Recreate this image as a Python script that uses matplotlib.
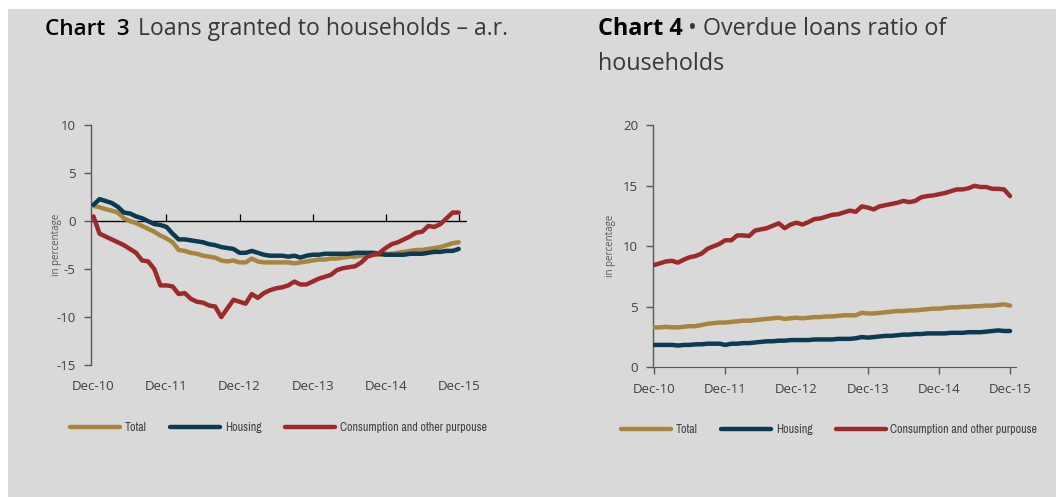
import matplotlib
matplotlib.use("Agg")
import matplotlib.pyplot as plt
from matplotlib.patches import Rectangle
from matplotlib import font_manager as fm
from matplotlib.font_manager import FontProperties
import numpy as np

# ---------------- data ----------------
tick_labels = ["Dec-10", "Dec-11", "Dec-12", "Dec-13", "Dec-14", "Dec-15"]
series_names = ["Total", "Housing", "Consumption and other purpouse"]

# Chart 3: annual rate of change of loans, Dec-10 .. Dec-15 (monthly)
c3_total = [1.6, 1.45, 1.25, 1.1, 0.9, 0.3, 0.0, -0.2, -0.5, -0.8, -1.1, -1.5,
            -1.8, -2.2, -3.0, -3.1, -3.3, -3.4, -3.6, -3.7, -3.8, -4.1, -4.2, -4.1,
            -4.3, -4.3, -3.9, -4.2, -4.3, -4.3, -4.3, -4.3, -4.3, -4.4, -4.3, -4.2,
            -4.1, -4.0, -4.0, -3.9, -3.9, -3.8, -3.7, -3.7, -3.6, -3.6, -3.5, -3.5,
            -3.4, -3.4, -3.3, -3.2, -3.1, -3.0, -3.0, -2.9, -2.8, -2.7, -2.5, -2.3,
            -2.2]
c3_housing = [1.7, 2.3, 2.1, 1.9, 1.5, 0.9, 0.8, 0.5, 0.3, 0.0, -0.3, -0.4,
              -0.6, -1.3, -1.9, -1.9, -2.0, -2.1, -2.2, -2.4, -2.5, -2.7, -2.8, -2.9,
              -3.3, -3.3, -3.1, -3.3, -3.5, -3.6, -3.6, -3.6, -3.7, -3.6, -3.8, -3.6,
              -3.5, -3.5, -3.4, -3.4, -3.4, -3.4, -3.4, -3.3, -3.3, -3.3, -3.3, -3.4,
              -3.5, -3.5, -3.5, -3.5, -3.4, -3.4, -3.4, -3.3, -3.2, -3.2, -3.1, -3.1,
              -2.9]
c3_consumption = [0.5, -1.3, -1.6, -1.9, -2.2, -2.5, -2.9, -3.3, -4.1, -4.2, -5.0, -6.7,
                  -6.7, -6.8, -7.6, -7.5, -8.1, -8.4, -8.5, -8.8, -8.9, -10.0, -9.1, -8.2,
                  -8.4, -8.6, -7.6, -8.0, -7.5, -7.2, -7.0, -6.9, -6.7, -6.3, -6.6, -6.6,
                  -6.3, -6.0, -5.8, -5.6, -5.1, -4.9, -4.8, -4.7, -4.3, -3.7, -3.5, -3.3,
                  -2.8, -2.4, -2.2, -1.9, -1.6, -1.2, -1.1, -0.5, -0.6, -0.3, 0.3, 0.9,
                  0.9]

# Chart 4: overdue loans ratio, Dec-10 .. Dec-15 (monthly)
c4_total = [3.3, 3.3, 3.35, 3.3, 3.3, 3.35, 3.4, 3.4, 3.5, 3.6, 3.65, 3.7,
            3.7, 3.75, 3.8, 3.85, 3.85, 3.9, 3.95, 4.0, 4.05, 4.1, 4.0, 4.05,
            4.1, 4.05, 4.1, 4.15, 4.15, 4.2, 4.2, 4.25, 4.3, 4.3, 4.3, 4.5,
            4.45, 4.45, 4.5, 4.55, 4.6, 4.65, 4.65, 4.7, 4.7, 4.75, 4.8, 4.85,
            4.85, 4.9, 4.95, 4.95, 5.0, 5.0, 5.05, 5.05, 5.1, 5.1, 5.15, 5.2,
            5.1]
c4_housing = [1.85, 1.85, 1.85, 1.85, 1.8, 1.85, 1.85, 1.9, 1.9, 1.95, 1.95, 1.95,
              1.85, 1.95, 1.95, 2.0, 2.0, 2.05, 2.1, 2.15, 2.15, 2.2, 2.2, 2.25,
              2.25, 2.25, 2.25, 2.3, 2.3, 2.3, 2.3, 2.35, 2.35, 2.35, 2.4, 2.5,
              2.45, 2.5, 2.55, 2.6, 2.6, 2.65, 2.7, 2.7, 2.75, 2.75, 2.8, 2.8,
              2.8, 2.8, 2.85, 2.85, 2.85, 2.9, 2.9, 2.9, 2.95, 3.0, 3.05, 3.0,
              3.0]
c4_consumption = [8.45, 8.6, 8.75, 8.8, 8.65, 8.9, 9.1, 9.2, 9.4, 9.8, 10.0, 10.2,
                  10.5, 10.5, 10.9, 10.9, 10.85, 11.3, 11.4, 11.5, 11.7, 11.9, 11.5, 11.8,
                  11.95, 11.8, 12.0, 12.25, 12.3, 12.45, 12.6, 12.65, 12.8, 12.95, 12.85, 13.3,
                  13.2, 13.05, 13.3, 13.4, 13.5, 13.6, 13.75, 13.65, 13.75, 14.05, 14.15, 14.2,
                  14.3, 14.4, 14.55, 14.7, 14.7, 14.8, 15.0, 14.9, 14.9, 14.75, 14.75, 14.7,
                  14.15]

# ---------------- style ----------------
colors = ["#A8853F", "#0B3A52", "#9C2A2C"]
BG = "#D9D9D9"
TXT = "#404040"
plt.rcParams["font.family"] = ["Open Sans", "DejaVu Sans"]
plt.rcParams["axes.unicode_minus"] = False

# pick a narrow/condensed sans for the legend if one is installed
pref = []
for f in fm.fontManager.ttflist:
    fn = f.fname.lower()
    if ("narrow" in fn or "condensed" in fn) and f.style == "normal" \
            and "bold" not in fn and "light" not in fn and "mono" not in fn \
            and "serif" not in fn.replace("sans", ""):
        rank = 0 if "narrow" in fn else (1 if "opensans" in fn.replace(" ", "") else 2)
        pref.append((rank, f.fname))
if pref:
    pref.sort()
    legend_prop = FontProperties(fname=pref[0][1])
else:
    legend_prop = FontProperties(family=["Open Sans", "DejaVu Sans"])

W, H = 1056, 497
fig = plt.figure(figsize=(W / 100, H / 100), dpi=100, facecolor="white")
fig.patches.append(Rectangle((8 / W, 0), 1 - 8 / W, 1 - 9 / H, transform=fig.transFigure,
                             facecolor=BG, edgecolor="none", zorder=-10))
renderer = fig.canvas.get_renderer()

# size legend font so the longest label spans ~146 px
probe = fig.text(0, 0, series_names[2], fontproperties=legend_prop, fontsize=10)
wpx = probe.get_window_extent(renderer).width
probe.remove()
leg_fs = min(9.5, 10 * 146.0 / wpx)
leg_fs_px = leg_fs * 100 / 72


def fx(px):
    return px / W


def fy(py):
    return 1 - py / H


def make_axes(l, r, t, b):
    return fig.add_axes([fx(l), fy(b), fx(r) - fx(l), fy(t) - fy(b)])


def style_y(ax):
    ax.set_facecolor("none")
    for s in ["top", "right"]:
        ax.spines[s].set_visible(False)
    ax.spines["left"].set_color("#595959")
    ax.spines["left"].set_linewidth(1.0)
    ax.tick_params(axis="y", direction="out", length=5, width=1, color="#595959",
                   labelsize=9.5, labelcolor=TXT, pad=6)


def add_legend(ax, lines, x0, yc):
    prop = legend_prop.copy()
    prop.set_size(leg_fs)
    leg = fig.legend(lines, series_names, loc="center left",
                     bbox_to_anchor=(fx(x0), fy(yc)), ncol=3, frameon=False,
                     borderpad=0, borderaxespad=0,
                     handlelength=50 / leg_fs_px, handletextpad=5 / leg_fs_px,
                     columnspacing=23 / leg_fs_px, prop=prop)
    for t in leg.get_texts():
        t.set_color(TXT)
    for h in leg.legend_handles:
        h.set_solid_capstyle("round")
    return leg


months = np.arange(len(c3_total))
tick_pos = months[::12]

# ---------------- Chart 3 ----------------
ax1 = make_axes(91, 466, 125.3, 365)
style_y(ax1)
ax1.spines["bottom"].set_visible(False)
ax1.set_xlim(-0.4, 61.2)
ax1.set_ylim(-15, 10)
ax1.set_yticks([-15, -10, -5, 0, 5, 10])
ax1.set_xticks(tick_pos)
ax1.set_xticklabels(tick_labels)
ax1.tick_params(axis="x", length=0, labelsize=9.5, labelcolor=TXT, pad=11)
ax1.axhline(0, color="black", lw=0.9, zorder=1)
sec = ax1.secondary_xaxis(15 / 25)
sec.set_xticks(tick_pos[1:])
sec.set_xticklabels([])
sec.spines["bottom"].set_visible(False)
sec.tick_params(axis="x", direction="out", length=5, width=0.9, color="black")
lines1 = []
for vals, c in zip([c3_total, c3_housing, c3_consumption], colors):
    ln, = ax1.plot(months, vals, color=c, lw=3.2, solid_capstyle="round",
                   solid_joinstyle="round", zorder=3)
    lines1.append(ln)
ax1.set_ylabel("in percentage", fontsize=7, color="#595959")
ax1.yaxis.set_label_coords((62 - 91) / (466 - 91), 0.5)
add_legend(ax1, lines1, 70, 427.7)

# ---------------- Chart 4 ----------------
ax2 = make_axes(653.3, 1016, 125.3, 367.3)
style_y(ax2)
ax2.spines["bottom"].set_color("#595959")
ax2.set_xlim(-0.15, 61.0)
ax2.set_ylim(0, 20)
ax2.set_yticks([0, 5, 10, 15, 20])
ax2.set_xticks(tick_pos)
ax2.set_xticklabels(tick_labels)
ax2.tick_params(axis="x", direction="out", length=5, width=1, color="#595959",
                labelsize=9.5, labelcolor=TXT, pad=6)
lines2 = []
for vals, c in zip([c4_total, c4_housing, c4_consumption], colors):
    ln, = ax2.plot(months, vals, color=c, lw=3.2, solid_capstyle="round",
                   solid_joinstyle="round", zorder=3)
    lines2.append(ln)
ax2.set_ylabel("in percentage", fontsize=7, color="#595959")
ax2.yaxis.set_label_coords((616 - 653.3) / (1016 - 653.3), 0.5)
add_legend(ax2, lines2, 621, 429.3)

# ---------------- titles ----------------
TS = 16.8
b3 = fig.text(fx(45), fy(35), "Chart  3", fontsize=TS - 0.6, fontweight="semibold",
              color="black", va="baseline", ha="left")
x3 = b3.get_window_extent(renderer).x1 + 8
fig.text(x3 / W, fy(35), "Loans granted to households – a.r.", fontsize=TS - 0.2,
         color="#383838", va="baseline", ha="left")
b4 = fig.text(fx(598), fy(35), "Chart 4", fontsize=TS, fontweight="bold", color="black",
              va="baseline", ha="left")
x4 = b4.get_window_extent(renderer).x1 + 5
fig.text(x4 / W, fy(35), "• Overdue loans ratio of", fontsize=TS, color="#383838",
         va="baseline", ha="left")
fig.text(fx(598), fy(70), "households", fontsize=TS, color="#383838",
         va="baseline", ha="left")

fig.savefig("out.png", dpi=100, facecolor="white")
